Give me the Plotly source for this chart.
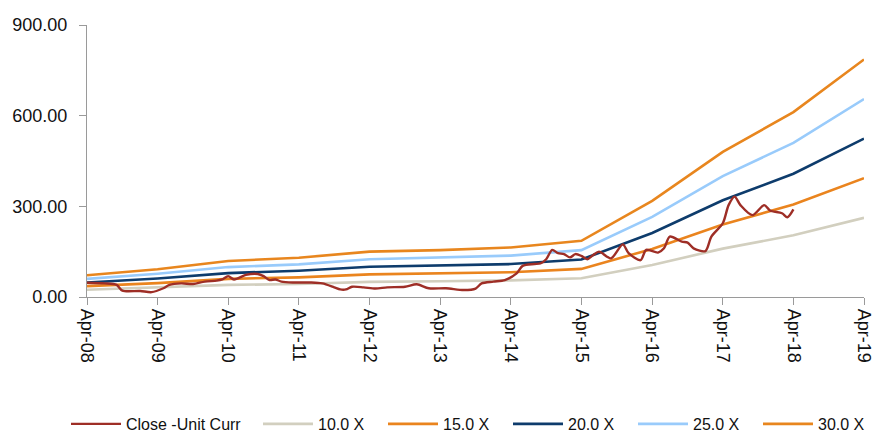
import plotly.graph_objects as go

# ---- data ----
price_dates = [
    "2008-04-01", "2008-07-01", "2008-09-01", "2008-10-01", "2009-01-01", "2009-03-01",
    "2009-05-01", "2009-06-01", "2009-08-01", "2009-10-01", "2009-12-01", "2010-02-01",
    "2010-03-01", "2010-04-01", "2010-05-01", "2010-07-01", "2010-09-01", "2010-10-01",
    "2010-11-01", "2010-12-01", "2011-01-01", "2011-03-01", "2011-06-01", "2011-08-01",
    "2011-10-01", "2011-11-01", "2011-12-01", "2012-01-01", "2012-03-01", "2012-05-01",
    "2012-07-01", "2012-10-01", "2012-12-01", "2013-02-01", "2013-05-01", "2013-08-01",
    "2013-10-01", "2013-11-01", "2014-01-01", "2014-03-01", "2014-05-01", "2014-06-01",
    "2014-08-01", "2014-09-01", "2014-10-01", "2014-11-01", "2014-12-01", "2015-01-01",
    "2015-02-01", "2015-03-01", "2015-04-01", "2015-05-01", "2015-06-01", "2015-07-01",
    "2015-09-01", "2015-11-01", "2015-12-01", "2016-02-01", "2016-03-01", "2016-05-01",
    "2016-06-01", "2016-07-01", "2016-09-01", "2016-10-01", "2016-11-01", "2017-01-01",
    "2017-02-01", "2017-04-01", "2017-05-01", "2017-06-01", "2017-07-01", "2017-09-01",
    "2017-11-01", "2017-12-01", "2018-02-01", "2018-03-01", "2018-04-01",
]
close_price = [
    47, 45, 40, 21, 20, 16,
    29, 40, 45, 43, 51, 54,
    58, 69, 58, 73, 76, 69,
    56, 58, 51, 48, 48, 45,
    32, 25, 25, 34, 32, 28,
    32, 34, 42, 29, 29, 23,
    28, 45, 51, 56, 78, 103,
    109, 111, 125, 156, 145, 142,
    131, 142, 136, 125, 139, 150,
    128, 174, 145, 122, 156, 147,
    161, 200, 183, 180, 161, 152,
    200, 244, 304, 332, 304, 271,
    304, 286, 277, 264, 290,
]

band_dates = [
    "2008-04-01", "2009-04-01", "2010-04-01", "2011-04-01", "2012-04-01", "2013-04-01",
    "2014-04-01", "2015-04-01", "2016-04-01", "2017-04-01", "2018-04-01", "2019-04-01",
]
band_10x = [24, 31, 40, 43, 50, 52, 55, 62, 106, 160, 204, 262]
band_15x = [36, 46, 60, 65, 75, 78, 82, 93, 159, 240, 306, 393]
band_20x = [48, 61, 79, 87, 100, 104, 109, 124, 212, 320, 408, 524]
band_25x = [60, 77, 99, 108, 125, 130, 137, 155, 265, 400, 510, 655]
band_30x = [72, 92, 119, 130, 150, 155, 164, 186, 318, 480, 612, 786]

tick_dates = band_dates
tick_labels = ["Apr-08", "Apr-09", "Apr-10", "Apr-11", "Apr-12", "Apr-13",
               "Apr-14", "Apr-15", "Apr-16", "Apr-17", "Apr-18", "Apr-19"]
y_ticks = [0, 300, 600, 900]

FONT = "Liberation Sans, Arial, sans-serif"
AXIS_COL = "#9a9a9a"

fig = go.Figure()
bands = [
    ("10.0 X", band_10x, "#D2CFBF"),
    ("15.0 X", band_15x, "#EA841E"),
    ("20.0 X", band_20x, "#0E3C6C"),
    ("25.0 X", band_25x, "#99CBFB"),
    ("30.0 X", band_30x, "#E8861E"),
]
for name, vals, col in bands:
    fig.add_trace(go.Scatter(x=band_dates, y=vals, mode="lines", name=name,
                             line=dict(color=col, width=2.6), legend="legend2"))
fig.add_trace(go.Scatter(x=price_dates, y=close_price, mode="lines", name="Close -Unit Curr",
                         line=dict(color="#9E2E26", width=2.4, shape="spline", smoothing=0.8),
                         legend="legend"))

leg_font = dict(family=FONT, size=16, color="#111")
fig.update_layout(
    width=880, height=425,
    margin=dict(l=79, r=24, t=17, b=136, autoexpand=False),
    paper_bgcolor="white", plot_bgcolor="white",
    showlegend=True,
    legend=dict(orientation="h", x=(66 - 87) / 777, xanchor="left", y=-0.467, yanchor="middle",
                font=leg_font, itemwidth=50),
    legend2=dict(orientation="h", x=(258 - 87) / 777, xanchor="left", y=-0.467, yanchor="middle",
                 font=leg_font, itemwidth=50, entrywidth=60),
    xaxis=dict(type="date", range=["2008-04-01", "2019-04-01"], automargin=False,
               tickvals=tick_dates, ticktext=tick_labels, tickangle=90,
               tickfont=dict(family=FONT, size=18, color="#111"),
               showgrid=False, zeroline=False, showline=True, linecolor=AXIS_COL, linewidth=1.3,
               ticks="outside", ticklen=7, tickcolor=AXIS_COL, tickwidth=1.3),
    yaxis=dict(range=[0, 900], tickvals=y_ticks, ticktext=[f"{v:.2f}" for v in y_ticks],
               automargin=False, ticklabelstandoff=8,
               tickfont=dict(family=FONT, size=18, color="#111"),
               showgrid=False, zeroline=False, showline=True, linecolor=AXIS_COL, linewidth=1.3,
               ticks="outside", ticklen=7, tickcolor=AXIS_COL, tickwidth=1.3),
)

fig.write_html("out.html")
